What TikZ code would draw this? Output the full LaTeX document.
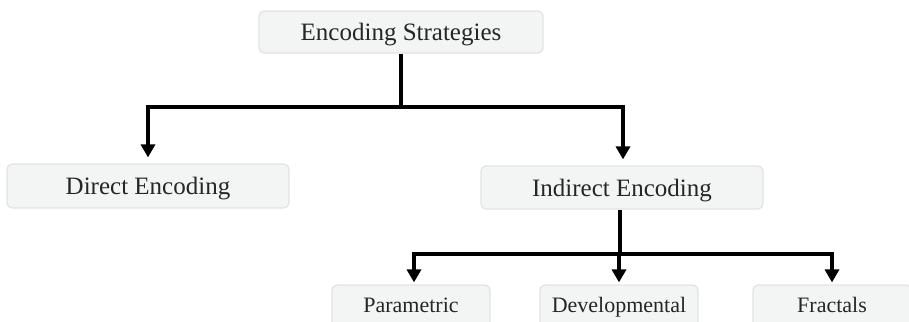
\documentclass[tikz,border=0pt]{standalone}
\usepackage{fontspec}
\setmainfont{Liberation Serif}
\usetikzlibrary{arrows.meta}
\definecolor{boxfill}{RGB}{243,244,244}
\definecolor{boxline}{RGB}{224,227,229}
\begin{document}
\begin{tikzpicture}[x=0.5pt,y=-0.5pt,
  box/.style={draw=boxline,fill=boxfill,rounded corners=2.5pt,line width=0.6pt,inner sep=0pt,
    font=\fontsize{12.5pt}{14pt}\selectfont,text=black!85,text height=9.6pt,text depth=1pt},
  smallbox/.style={box,font=\fontsize{11pt}{13pt}\selectfont,text height=8pt,text depth=1.8pt},
  conn/.style={line width=1.7pt,line join=miter,black},
  arr/.style={conn,-{Triangle[length=6.5pt,width=7pt]}}]
\clip (0,0) rectangle (909,321);
\useasboundingbox (0,0) rectangle (909,321);
\node[box,minimum width=142pt,minimum height=21pt] (top) at (401,32) {Encoding Strategies};
\node[box,minimum width=141pt,minimum height=22pt] (direct) at (148,186) {Direct Encoding};
\node[box,minimum width=141pt,minimum height=21.5pt] (indirect) at (622,187.5) {Indirect Encoding};
\node[smallbox,minimum width=79pt,minimum height=21.5pt] (param) at (411,306.5) {Parametric};
\node[smallbox,minimum width=79pt,minimum height=21.5pt] (devel) at (619,306.5) {Developmental};
\node[smallbox,minimum width=79pt,minimum height=21.5pt] (fract) at (832,306.5) {Fractals};
\coordinate (j1) at (401,107);
\coordinate (j2) at (620,254);
\draw[conn] (top.south) -- (j1);
\draw[arr] (j1) -| ([yshift=3pt]direct.north);
\draw[arr] (j1) -| ([xshift=0.5pt,yshift=3pt]indirect.north);
\draw[conn] (indirect.south -| j2) -- (j2);
\draw[arr] (j2) -| ([xshift=1.5pt,yshift=1pt]param.north);
\draw[arr] (j2) -| ([yshift=1pt]devel.north);
\draw[arr] (j2) -| ([yshift=1pt]fract.north);
\end{tikzpicture}
\end{document}
